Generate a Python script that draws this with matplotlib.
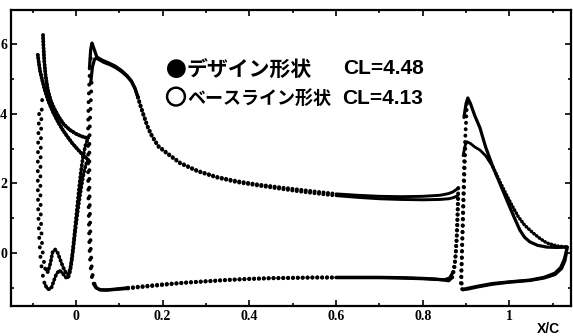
import matplotlib
matplotlib.use("Agg")
import matplotlib.pyplot as plt
import matplotlib.patheffects as pe
import numpy as np
from matplotlib.ticker import MultipleLocator, FixedLocator

# ---------------- data ----------------
# Slat
slat_des_up_x = [-0.076, -0.075, -0.073, -0.070, -0.065, -0.058, -0.050, -0.040, -0.028, -0.014, 0.000, 0.012, 0.022, 0.028]
slat_des_up_y = [6.27, 5.95, 5.50, 5.10, 4.70, 4.38, 4.15, 3.92, 3.70, 3.54, 3.43, 3.36, 3.32, 3.30]
slat_base_up_x = [-0.088, -0.086, -0.083, -0.078, -0.071, -0.063, -0.054, -0.044, -0.032, -0.020, -0.008, 0.004, 0.016, 0.028]
slat_base_up_y = [5.70, 5.50, 5.25, 4.98, 4.65, 4.35, 4.08, 3.83, 3.57, 3.35, 3.15, 2.98, 2.82, 2.68]

slat_des_lo_x = [-0.078, -0.080, -0.081, -0.082, -0.082, -0.081, -0.079, -0.076, -0.071, -0.065, -0.059, -0.054, -0.048, -0.042,
                 -0.036, -0.030, -0.024, -0.018, -0.013, -0.009, -0.005, -0.001, 0.003, 0.007, 0.011, 0.016, 0.022, 0.028]
slat_des_lo_y = [4.40, 3.80, 3.10, 2.40, 1.70, 1.00, 0.40, -0.10, -0.45, -0.55, -0.30, 0.02, 0.10, 0.00,
                 -0.20, -0.40, -0.55, -0.62, -0.45, -0.10, 0.35, 0.85, 1.35, 1.85, 2.30, 2.75, 3.10, 3.30]
slat_base_lo_x = [-0.085, -0.087, -0.088, -0.088, -0.087, -0.085, -0.082, -0.078, -0.073, -0.067, -0.061, -0.056, -0.051, -0.045,
                  -0.038, -0.031, -0.024, -0.018, -0.014, -0.010, -0.006, -0.002, 0.003, 0.008, 0.013, 0.018, 0.023, 0.028]
slat_base_lo_y = [4.00, 3.30, 2.60, 1.90, 1.20, 0.50, -0.10, -0.55, -0.85, -1.02, -1.05, -0.98, -0.80, -0.60,
                  -0.50, -0.58, -0.70, -0.72, -0.55, -0.25, 0.15, 0.60, 1.10, 1.55, 1.95, 2.30, 2.55, 2.68]

# Main element
main_des_up_x = [0.031, 0.034, 0.037, 0.041, 0.048, 0.060, 0.075, 0.090, 0.105, 0.118, 0.128, 0.136, 0.143, 0.150, 0.158, 0.166,
                 0.175, 0.190, 0.210, 0.240, 0.280, 0.325, 0.370, 0.420, 0.470, 0.510, 0.550, 0.600, 0.650, 0.700, 0.750,
                 0.800, 0.840, 0.860, 0.870, 0.878, 0.882]
main_des_up_y = [5.30, 5.85, 6.04, 5.90, 5.64, 5.55, 5.47, 5.38, 5.25, 5.10, 4.95, 4.75, 4.49, 4.20, 3.90, 3.62,
                 3.38, 3.08, 2.88, 2.60, 2.37, 2.19, 2.07, 1.97, 1.89, 1.83, 1.77, 1.70, 1.66, 1.63, 1.62,
                 1.63, 1.66, 1.71, 1.76, 1.83, 1.88]
main_base_up_x = [0.034, 0.038, 0.043, 0.048, 0.055, 0.065, 0.078, 0.092, 0.105, 0.118, 0.128, 0.136, 0.143, 0.150, 0.158, 0.166,
                  0.175, 0.190, 0.210, 0.240, 0.280, 0.325, 0.370, 0.420, 0.470, 0.510, 0.550, 0.600, 0.650, 0.700, 0.750,
                  0.800, 0.840, 0.860, 0.870, 0.878, 0.882]
main_base_up_y = [4.90, 5.35, 5.58, 5.60, 5.55, 5.48, 5.42, 5.33, 5.22, 5.08, 4.93, 4.73, 4.47, 4.18, 3.88, 3.60,
                  3.36, 3.06, 2.86, 2.58, 2.35, 2.17, 2.04, 1.94, 1.85, 1.78, 1.72, 1.65, 1.60, 1.56, 1.54,
                  1.53, 1.54, 1.56, 1.59, 1.63, 1.67]

main_des_lo_x = [0.034, 0.031, 0.029, 0.028, 0.028, 0.028, 0.029, 0.030, 0.031, 0.033, 0.036, 0.040, 0.046, 0.055, 0.070,
                 0.090, 0.120, 0.160, 0.200, 0.250, 0.300, 0.350, 0.400, 0.450, 0.500, 0.550, 0.600, 0.650, 0.700,
                 0.750, 0.800, 0.830, 0.850, 0.862, 0.870, 0.875, 0.878, 0.880, 0.882]
main_des_lo_y = [5.60, 5.00, 4.30, 3.60, 2.90, 2.20, 1.50, 0.80, 0.20, -0.30, -0.65, -0.88, -1.00, -1.06, -1.07,
                 -1.05, -1.02, -0.97, -0.92, -0.86, -0.82, -0.78, -0.75, -0.73, -0.72, -0.71, -0.71, -0.71, -0.71,
                 -0.72, -0.74, -0.76, -0.77, -0.72, -0.55, -0.20, 0.40, 1.10, 1.88]
main_base_lo_x = [0.036, 0.034, 0.032, 0.031, 0.031, 0.031, 0.032, 0.033, 0.034, 0.036, 0.039, 0.043, 0.048, 0.057, 0.072,
                  0.090, 0.120, 0.160, 0.200, 0.250, 0.300, 0.350, 0.400, 0.450, 0.500, 0.550, 0.600, 0.650, 0.700,
                  0.750, 0.800, 0.830, 0.850, 0.860, 0.868, 0.873, 0.877, 0.880, 0.882]
main_base_lo_y = [4.90, 4.30, 3.70, 3.10, 2.50, 1.90, 1.30, 0.70, 0.15, -0.35, -0.70, -0.90, -1.01, -1.06, -1.06,
                  -1.04, -1.00, -0.95, -0.90, -0.85, -0.81, -0.77, -0.74, -0.72, -0.71, -0.70, -0.70, -0.70, -0.70,
                  -0.71, -0.73, -0.75, -0.78, -0.80, -0.70, -0.45, 0.10, 0.80, 1.67]

# Flap
flap_des_up_x = [0.895, 0.900, 0.904, 0.910, 0.920, 0.932, 0.945, 0.962, 0.978, 0.994, 1.010, 1.024, 1.035, 1.047, 1.065, 1.086, 1.110, 1.133]
flap_des_up_y = [3.90, 4.30, 4.46, 4.30, 3.95, 3.60, 3.05, 2.47, 2.00, 1.52, 1.05, 0.66, 0.45, 0.32, 0.22, 0.17, 0.16, 0.17]
flap_base_up_x = [0.893, 0.898, 0.902, 0.910, 0.920, 0.932, 0.945, 0.962, 0.978, 0.994, 1.008, 1.020, 1.035, 1.054, 1.070, 1.086, 1.110, 1.133]
flap_base_up_y = [2.80, 3.10, 3.20, 3.15, 3.05, 2.96, 2.80, 2.47, 2.05, 1.65, 1.32, 1.05, 0.80, 0.58, 0.42, 0.29, 0.20, 0.17]

flap_des_lo_x = [0.902, 0.900, 0.898, 0.896, 0.895, 0.894, 0.893, 0.892, 0.891, 0.890, 0.889, 0.888, 0.889, 0.893, 0.902,
                 0.925, 0.960, 1.000, 1.047, 1.080, 1.105, 1.118, 1.126, 1.130, 1.133]
flap_des_lo_y = [4.30, 3.80, 3.30, 2.80, 2.30, 1.80, 1.30, 0.80, 0.30, -0.20, -0.60, -0.88, -1.02, -1.06, -1.02,
                 -0.96, -0.88, -0.83, -0.78, -0.70, -0.58, -0.42, -0.20, -0.02, 0.17]
flap_base_lo_x = [0.898, 0.897, 0.896, 0.895, 0.894, 0.893, 0.892, 0.891, 0.890, 0.889, 0.890, 0.894, 0.903, 0.925, 0.960,
                  1.000, 1.047, 1.080, 1.105, 1.120, 1.128, 1.131, 1.133]
flap_base_lo_y = [3.00, 2.60, 2.20, 1.80, 1.40, 1.00, 0.60, 0.20, -0.20, -0.60, -0.90, -1.04, -1.04, -0.98, -0.90,
                  -0.84, -0.79, -0.72, -0.62, -0.45, -0.22, -0.02, 0.17]

legend_names = ["デザイン形状", "ベースライン形状"]
legend_cl = ["CL=4.48", "CL=4.13"]
x_ticks = [0, 0.2, 0.4, 0.6, 0.8, 1]
x_tick_labels = ["0", "0.2", "0.4", "0.6", "0.8", "1"]
y_ticks = [0, 2, 4, 6]
y_tick_labels = ["0", "2", "4", "6"]

# ---------------- figure ----------------
W, H = 573, 336
fig = plt.figure(figsize=(W / 100, H / 100), dpi=100)
ax = fig.add_axes([10.5 / W, 1 - 306 / H, (571 - 10.5) / W, (306 - 10) / H])
ax.set_xlim(-0.151, 1.142)
ax.set_ylim(-1.525, 6.99)

K = "black"


def beads(x, y, gap=1.6, lw=2.6):
    ax.plot(x, y, color=K, lw=lw, ls=(0, (0.05, gap)), dash_capstyle="round")


def solid(x, y, lw=2.2):
    ax.plot(x, y, color=K, lw=lw, solid_capstyle="round", solid_joinstyle="round")


def seg(x, y, i, j):
    return np.asarray(x)[i:j], np.asarray(y)[i:j]


# slat upper surfaces
for xs, ys in [(slat_des_up_x, slat_des_up_y), (slat_base_up_x, slat_base_up_y)]:
    solid(xs, ys, lw=2.2)
    beads(xs, ys, gap=0.8, lw=2.8)

# slat lower surfaces
for xs, ys in [(slat_des_lo_x, slat_des_lo_y), (slat_base_lo_x, slat_base_lo_y)]:
    beads(*seg(xs, ys, 0, 9), gap=2.4, lw=2.8)
    solid(*seg(xs, ys, 8, None), lw=1.6)
    beads(*seg(xs, ys, 8, None), gap=1.0, lw=2.8)

# main upper surfaces
for xs, ys in [(main_des_up_x, main_des_up_y), (main_base_up_x, main_base_up_y)]:
    solid(*seg(xs, ys, 0, 13), lw=2.3)
    beads(*seg(xs, ys, 12, 28), gap=1.1, lw=2.8)
    solid(*seg(xs, ys, 27, None), lw=2.1)

# main lower surfaces
for xs, ys in [(main_des_lo_x, main_des_lo_y), (main_base_lo_x, main_base_lo_y)]:
    beads(*seg(xs, ys, 0, 12), gap=2.2, lw=2.8)
    solid(*seg(xs, ys, 11, 17), lw=2.3)
    beads(*seg(xs, ys, 16, 27), gap=1.2, lw=2.8)
    solid(*seg(xs, ys, 26, 35), lw=2.3)
    beads(*seg(xs, ys, 34, None), gap=1.3, lw=2.8)

# flap upper surfaces
solid(flap_des_up_x, flap_des_up_y, lw=2.3)
solid(*seg(flap_base_up_x, flap_base_up_y, 0, 8), lw=2.0)
beads(*seg(flap_base_up_x, flap_base_up_y, 7, None), gap=0.9, lw=2.6)

# flap lower surfaces
for xs, ys in [(flap_des_lo_x, flap_des_lo_y), (flap_base_lo_x, flap_base_lo_y)]:
    n = len(xs)
    beads(*seg(xs, ys, 0, n - 11), gap=1.6, lw=2.8)
    solid(*seg(xs, ys, n - 12, None), lw=2.3)

# ---------------- axes styling ----------------
for s in ax.spines.values():
    s.set_linewidth(1.6)
ax.xaxis.set_major_locator(FixedLocator(x_ticks))
ax.xaxis.set_minor_locator(MultipleLocator(0.1))
ax.yaxis.set_major_locator(FixedLocator(y_ticks))
ax.yaxis.set_minor_locator(MultipleLocator(1))
ax.set_xticklabels(x_tick_labels)
ax.set_yticklabels(y_tick_labels)
ax.tick_params(which="both", direction="in", top=True, right=True, width=1.2)
ax.tick_params(which="major", length=4.5)
ax.tick_params(which="minor", length=2.5)
ax.tick_params(axis="x", pad=3)
ax.tick_params(axis="y", pad=2.5)
for lab in ax.get_xticklabels() + ax.get_yticklabels():
    lab.set_fontfamily("Liberation Serif")
    lab.set_fontweight("bold")
    lab.set_fontsize(10)

# ---------------- legend text ----------------
jp = ["Noto Sans CJK JP", "DejaVu Sans"]
y1, y2 = 1 - 69 / H, 1 - 98 / H
fig.text(176 / W, y1, "●", family=jp, fontweight="bold", fontsize=15, ha="center", va="center")
fig.text(187 / W, y1, legend_names[0], family=jp, fontweight="bold", fontsize=15, ha="left", va="center")
fig.text(343 / W, y1, legend_cl[0], family="Liberation Sans", fontweight="bold", fontsize=15,
         ha="left", va="center")
fig.text(176 / W, y2, "○", family=jp, fontweight="bold", fontsize=15, ha="center", va="center",
         path_effects=[pe.withStroke(linewidth=1.1, foreground="black")])
fig.text(187 / W, y2, legend_names[1], family=jp, fontweight="bold", fontsize=13, ha="left", va="center")
fig.text(342 / W, y2, legend_cl[1], family="Liberation Sans", fontweight="bold", fontsize=15,
         ha="left", va="center")

fig.text(548 / W, 1 - 329 / H, "X/C", family="Liberation Sans", fontweight="bold",
         fontsize=10, ha="center", va="center")

fig.savefig("out.png", dpi=100)
